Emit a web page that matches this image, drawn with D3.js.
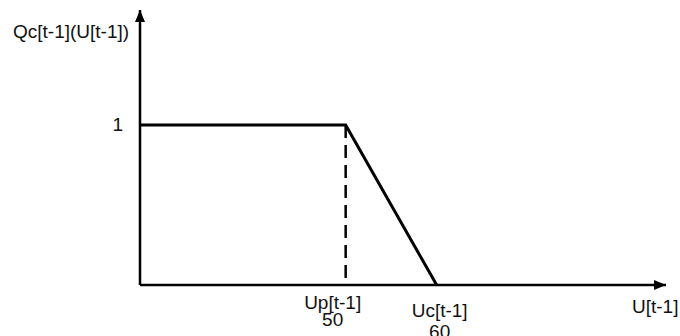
<!DOCTYPE html>
<html lang="en">
<head>
    <script src="https://d3js.org/d3.v7.min.js"></script>
    <style>
        body { margin: 0; background: white; }
        text { font-family: "Liberation Sans", Arial, Helvetica, sans-serif; font-size: 19px; fill: #111; }
    </style>
</head>
<body>
    <svg id="chart" width="680" height="336"></svg>

    <script>
    // curve knots (U, Qc) - axis origin is not zero, the sketch is schematic
    const curveU = [27.4, 50, 60];
    const curveQ = [1, 1, 0];

    // x tick labels under the axis
    const xTickValues = [50, 60];
    const xTickNames = ["Up[t-1]", "Uc[t-1]"];

    const yTickValues = [1];
    const yTickLabels = ["1"];

    const uDomain = [27.4, 85.2];
    const qDomain = [0, 1.72];

    const svg = d3.select("#chart");
    const origin = {x: 140, y: 285};

    const xScale = d3.scaleLinear()
        .domain(uDomain)
        .range([origin.x, 666]);
    const yScale = d3.scaleLinear()
        .domain(qDomain)
        .range([origin.y, 10]);

    // arrow heads
    svg.append("defs").append("marker")
        .attr("id", "arrow")
        .attr("viewBox", "0 0 12 10")
        .attr("refX", 12)
        .attr("refY", 5)
        .attr("markerWidth", 12)
        .attr("markerHeight", 10)
        .attr("markerUnits", "userSpaceOnUse")
        .attr("orient", "auto")
        .append("path")
        .attr("d", "M0,0 L12,5 L0,10 Z")
        .attr("fill", "#000");

    // axes
    svg.append("line")
        .attr("x1", xScale(uDomain[0])).attr("y1", yScale(0))
        .attr("x2", xScale(uDomain[1])).attr("y2", yScale(0))
        .attr("stroke", "#000").attr("stroke-width", 2.5)
        .attr("marker-end", "url(#arrow)");
    svg.append("line")
        .attr("x1", xScale(uDomain[0])).attr("y1", yScale(0))
        .attr("x2", xScale(uDomain[0])).attr("y2", yScale(qDomain[1]))
        .attr("stroke", "#000").attr("stroke-width", 2.5)
        .attr("marker-end", "url(#arrow)");

    // dashed drop line at Up
    svg.append("line")
        .attr("x1", xScale(curveU[1])).attr("y1", yScale(curveQ[1]))
        .attr("x2", xScale(curveU[1])).attr("y2", yScale(0))
        .attr("stroke", "#000").attr("stroke-width", 2.5)
        .attr("stroke-dasharray", "13,7");

    // the curve
    const line = d3.line()
        .x((d, i) => xScale(curveU[i]))
        .y(d => yScale(d));
    svg.append("path")
        .datum(curveQ)
        .attr("d", line)
        .attr("fill", "none")
        .attr("stroke", "#000")
        .attr("stroke-width", 3);

    // tick labels on x
    const xOffsets = [-13, 3];
    const firstBase = [309, 317];
    xTickValues.forEach(function(v, i) {
        const cx = xScale(v) + xOffsets[i];
        svg.append("text")
            .attr("x", cx).attr("y", firstBase[i])
            .attr("text-anchor", "middle")
            .text(xTickNames[i]);
        svg.append("text")
            .attr("x", cx).attr("y", firstBase[i] + 17 + i * 4)
            .attr("text-anchor", "middle")
            .text(v);
    });

    yTickValues.forEach(function(v, i) {
        svg.append("text")
            .attr("x", 123).attr("y", yScale(v) + 6)
            .attr("text-anchor", "end")
            .text(yTickLabels[i]);
    });

    // axis titles
    svg.append("text")
        .attr("x", 13).attr("y", 38)
        .text("Qc[t-1](U[t-1])");
    svg.append("text")
        .attr("x", 632).attr("y", 313)
        .text("U[t-1]");
    </script>
</body>
</html>
